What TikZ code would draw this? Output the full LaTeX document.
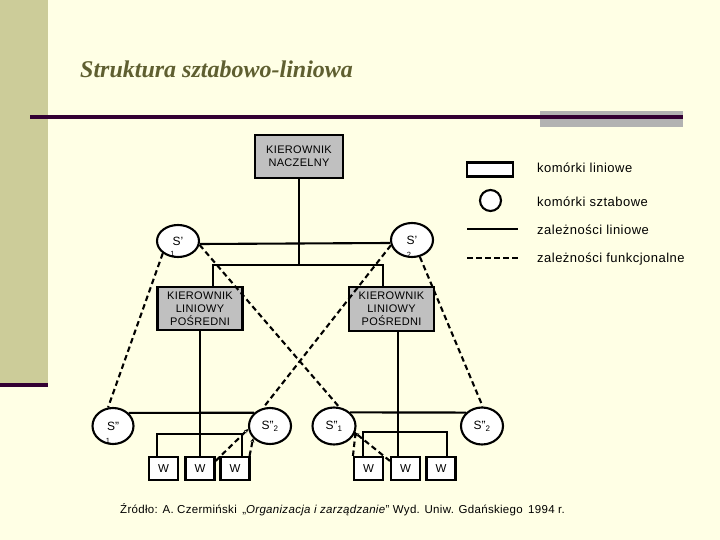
\documentclass[tikz,border=0pt]{standalone}
\usepackage{fontspec}
\setmainfont{Liberation Sans}
\newfontfamily\titlefont{Liberation Serif}
\usetikzlibrary{shapes.geometric,arrows.meta}
\definecolor{bg}{RGB}{255,255,229}
\definecolor{band}{RGB}{204,204,153}
\definecolor{plum}{RGB}{51,0,51}
\definecolor{barg}{RGB}{178,178,178}
\definecolor{boxg}{RGB}{192,192,192}
\definecolor{olivetxt}{RGB}{95,95,48}
\begin{document}
\begin{tikzpicture}[x=1pt,y=-1pt,
  linebox/.style={draw,line width=2.1pt,fill=boxg,align=center,inner sep=0pt,font=\fontsize{11}{13}\selectfont\addfontfeatures{LetterSpace=3}},
  wbox/.style={draw,line width=2.1pt,fill=white,minimum width=29pt,minimum height=23pt,inner sep=0pt,font=\fontsize{11.5}{13}\selectfont},
  staff/.style={draw,ellipse,line width=2.1pt,fill=white,inner sep=0pt,minimum width=42pt,minimum height=35pt,font=\fontsize{12}{14}\selectfont},
  sub/.style={anchor=south,inner sep=0.5pt,font=\fontsize{7.5}{8}\selectfont},
  solidline/.style={line width=2.1pt},
  dashline/.style={line width=2.1pt,dash pattern=on 5.5pt off 3.5pt},
  tipline/.style={dashline,-{Stealth[length=4pt,width=4pt]}},
  legtext/.style={anchor=west,inner sep=0pt,font=\fontsize{13}{15}\selectfont\addfontfeatures{LetterSpace=3.7}}
]
\useasboundingbox (0,0) rectangle (720,540);
\fill[bg] (0,0) rectangle (720,540);
\fill[band] (0,0) rectangle (48,383);
\fill[plum] (0,383) rectangle (48,387);
\fill[barg] (540,111) rectangle (683,127);
\fill[plum] (30,115.5) rectangle (683,119);

\node[anchor=base west,inner sep=0pt,text=olivetxt,font=\titlefont\bfseries\itshape\fontsize{24}{28}\selectfont] (title) at (80,78) {Struktura sztabowo-liniowa};

% line cells
\node[linebox,minimum width=88pt,minimum height=43pt] (KN) at (299,156.5) {KIEROWNIK\\NACZELNY};
\node[linebox,minimum width=85pt,minimum height=43pt] (KLP1) at (200,308.5) {KIEROWNIK\\LINIOWY\\POŚREDNI};
\node[linebox,minimum width=85pt,minimum height=44pt] (KLP2) at (391.5,309) {KIEROWNIK\\LINIOWY\\POŚREDNI};

% staff cells
\node[staff,minimum width=42pt,minimum height=32pt,label={[sub,xshift=-1pt]-105:1}] (S1p) at (178,241) {S\symbol{39}};
\node[staff,minimum width=42pt,minimum height=34pt,label={[sub]-100:2}] (S2p) at (412,240) {S\symbol{39}};
\node[staff,minimum width=41pt,minimum height=36pt,label={[sub]-105:1}] (S1ppL) at (113,426) {S\symbol{34}};
\node[staff,minimum width=42pt,minimum height=36pt] (S2ppL) at (270,426) {S\symbol{34}\textsubscript{2}};
\node[staff,minimum width=43pt,minimum height=37pt] (S1ppR) at (334,426) {S\symbol{34}\textsubscript{1}};
\node[staff,minimum width=42pt,minimum height=37pt] (S2ppR) at (482,426) {S\symbol{34}\textsubscript{2}};

% workers
\node[wbox] (W1L) at (163.5,468.5) {W};
\node[wbox] (W2L) at (200,468.5) {W};
\node[wbox] (W3L) at (235,468.5) {W};
\node[wbox] (W1R) at (368.5,468.5) {W};
\node[wbox] (W2R) at (405.5,468.5) {W};
\node[wbox] (W3R) at (441,468.5) {W};

% line relations
\coordinate (bus) at (299,265);
\draw[solidline] (KN.south) -- (bus);
\draw[solidline] ([xshift=13pt]KLP1.north) |- (bus) -| ([xshift=-8.5pt]KLP2.north);
\draw[solidline] ([yshift=-3pt]S1p.east) -- ([yshift=-3pt]S2p.west);
\draw[solidline] (KLP1.south) -- (W2L.north);
\draw[solidline] ([xshift=6.5pt]KLP2.south) -- ([xshift=6.5pt]KLP2.south |- W2R.north);
\draw[solidline] ([xshift=-6.5pt]W1L.north) -- ++(0,-22) -| ([xshift=7pt]W3L.north);
\draw[solidline] ([xshift=-5.5pt]W1R.north) -- ++(0,-24) -| ([xshift=6pt]W3R.north);
\draw[solidline] (S1ppL.40) -- (S2ppL.140);
\draw[solidline] (S1ppR.40) -- (S2ppR.140);

% functional relations
\draw[dashline] (S1p.219) -- (S1ppL.105);
\draw[dashline] (S1p.-10) -- (S1ppR.75);
\draw[dashline] (S2p.194) -- (S2ppL.111);
\draw[dashline] (S2p.-65) -- (S2ppR.88);
\draw[tipline] ([yshift=-5pt]W2L.north east) -- (S2ppL.188);
\draw[tipline] ([xshift=-1pt]W3L.north east) -- (S2ppL.216);
\draw[tipline] (W1R.north west) -- (S1ppR.-14);
\draw[tipline] ([yshift=-5pt]W2R.north west) -- (S1ppR.-18);

% legend
\node[draw,line width=2.1pt,fill=white,minimum width=46pt,minimum height=14pt,inner sep=0pt] (legrect) at (490,169.5) {};
\node[draw,circle,line width=2.1pt,fill=white,minimum size=21pt,inner sep=0pt] (legcirc) at (490.5,200.5) {};
\coordinate (ls1) at (467,229);
\coordinate (ls2) at (518,229);
\draw[solidline] (ls1) -- (ls2);
\coordinate (ld1) at (467,258);
\coordinate (ld2) at (518,258);
\draw[dashline] (ld1) -- (ld2);
\node[legtext] (t1) at (537,168) {komórki liniowe};
\node[legtext] (t2) at (537,202) {komórki sztabowe};
\node[legtext] (t3) at (537,230) {zależności liniowe};
\node[legtext] (t4) at (537,259) {zależności funkcjonalne};

\node[anchor=west,inner sep=0pt,font=\fontsize{11.5}{13}\selectfont\addfontfeatures{LetterSpace=2.7}] (src) at (120,510) {Źródło: A. Czermiński \,„\textit{Organizacja i zarządzanie}" Wyd. Uniw. Gdańskiego \,1994 r.};
\end{tikzpicture}
\end{document}
